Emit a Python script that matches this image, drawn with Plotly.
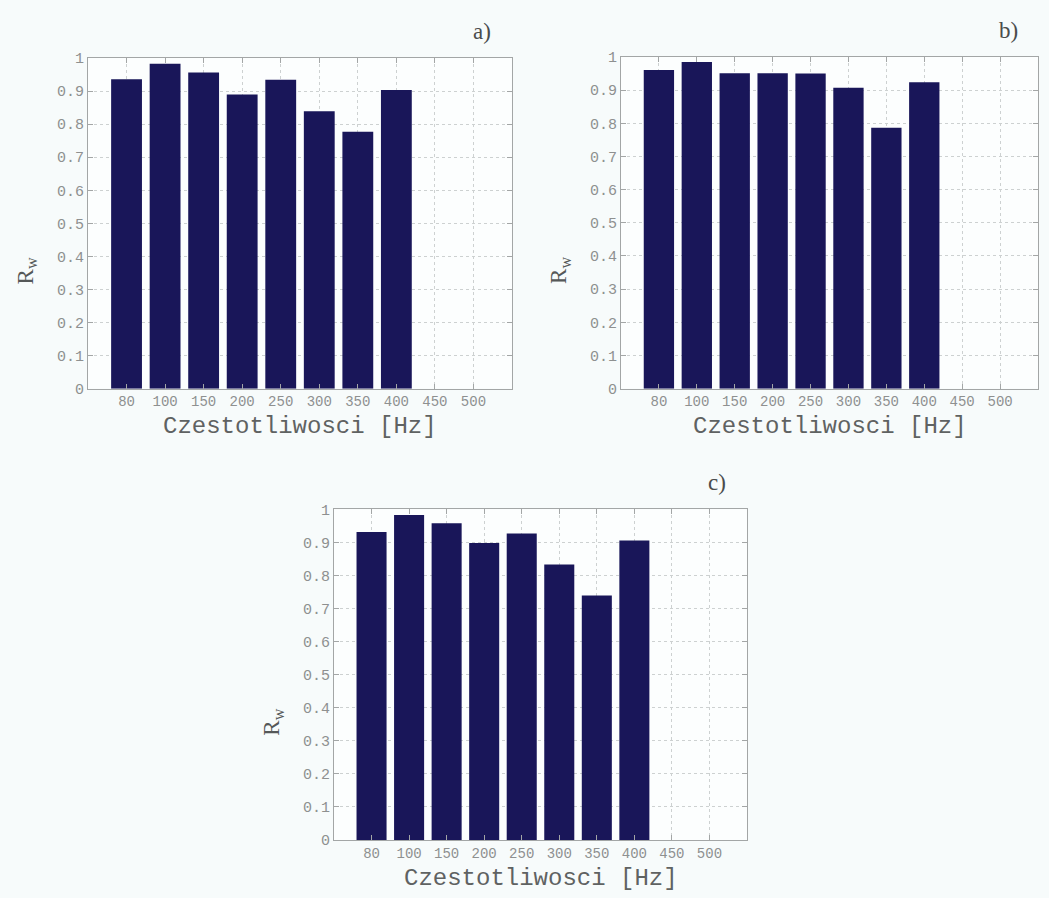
import plotly.graph_objects as go

# Frequencies (category labels) and R_w values for the three panels
freqs = ["80", "100", "150", "200", "250", "300", "350", "400", "450", "500"]
rw_a = [0.936, 0.983, 0.956, 0.890, 0.934, 0.839, 0.777, 0.903, 0, 0]
rw_b = [0.961, 0.985, 0.951, 0.951, 0.950, 0.907, 0.787, 0.924, 0, 0]
rw_c = [0.931, 0.983, 0.958, 0.898, 0.927, 0.833, 0.739, 0.906, 0, 0]
y_ticks = [0, 0.1, 0.2, 0.3, 0.4, 0.5, 0.6, 0.7, 0.8, 0.9, 1]
y_ticktext = ["0", "0.1", "0.2", "0.3", "0.4", "0.5", "0.6", "0.7", "0.8", "0.9", "1"]
panel_labels = ["a)", "b)", "c)"]

W, H = 1049, 898
BAR = "#191659"
PAPER = "#f7fbfb"
MONO = "Liberation Mono, Courier New, monospace"
Y_TICK_FONT = dict(family=MONO, size=15, color="#8e9090")
X_TICK_FONT = dict(family=MONO, size=14, color="#8e9090")
TITLE_FONT = dict(family=MONO, size=24, color="#5f6262")


def px_x(v):
    return v / W


def px_y(v):
    return 1 - v / H


# pixel boxes of the three plot areas: (left, right, top, bottom)
boxes = [(88, 512, 52, 389), (621, 1038, 51, 389), (334, 747, 512, 849)]
series = [rw_a, rw_b, rw_c]

fig = go.Figure()
layout = dict(
    width=W, height=H, margin=dict(l=0, r=0, t=0, b=0),
    paper_bgcolor=PAPER, plot_bgcolor="#fcfefe",
    showlegend=False, bargap=0.2,
)
annotations = []

for i, (vals, box) in enumerate(zip(series, boxes)):
    n = "" if i == 0 else str(i + 1)
    left, right, top, bottom = box
    fig.add_trace(go.Bar(
        x=freqs, y=vals, marker=dict(color=BAR, line=dict(width=0)),
        xaxis="x" + n, yaxis="y" + n, width=0.8,
    ))
    axis_common = dict(
        showline=True, linecolor="#a3a6a6", linewidth=1, mirror="ticks",
        ticks="inside", ticklen=5, tickcolor="#a3a6a6",
        showgrid=True, gridcolor="#cdd1d1", griddash="dot", gridwidth=1,
        zeroline=False,
    )
    layout["xaxis" + n] = dict(
        axis_common, domain=[px_x(left), px_x(right)], anchor="y" + n,
        type="category", categoryorder="array", categoryarray=freqs,
        range=[-1, len(freqs)], tickfont=X_TICK_FONT,
    )
    layout["yaxis" + n] = dict(
        axis_common, domain=[px_y(bottom), px_y(top)], anchor="x" + n,
        range=[0, 1], tickvals=y_ticks, ticktext=y_ticktext, tickfont=Y_TICK_FONT,
    )
    # x-axis title
    annotations.append(dict(
        text="Czestotliwosci [Hz]", x=px_x((left + right) / 2), y=px_y(bottom + 39),
        xref="paper", yref="paper", showarrow=False, font=TITLE_FONT,
        xanchor="center", yanchor="middle",
    ))
    # y-axis title
    annotations.append(dict(
        text="R<sub>w</sub>", x=px_x(left - 61), y=px_y((top + bottom) / 2 + 49),
        xref="paper", yref="paper", showarrow=False, textangle=-90,
        font=dict(family="Liberation Serif, serif", size=23, color="#555858"),
        xanchor="center", yanchor="middle",
    ))
    # panel label
    annotations.append(dict(
        text=panel_labels[i], x=px_x(right - 30), y=px_y(top - 27),
        xref="paper", yref="paper", showarrow=False,
        font=dict(family="Liberation Serif, serif", size=23, color="#4a4c4c"),
        xanchor="center", yanchor="middle",
    ))

layout["annotations"] = annotations
fig.update_layout(**layout)
fig.write_html("out.html")
